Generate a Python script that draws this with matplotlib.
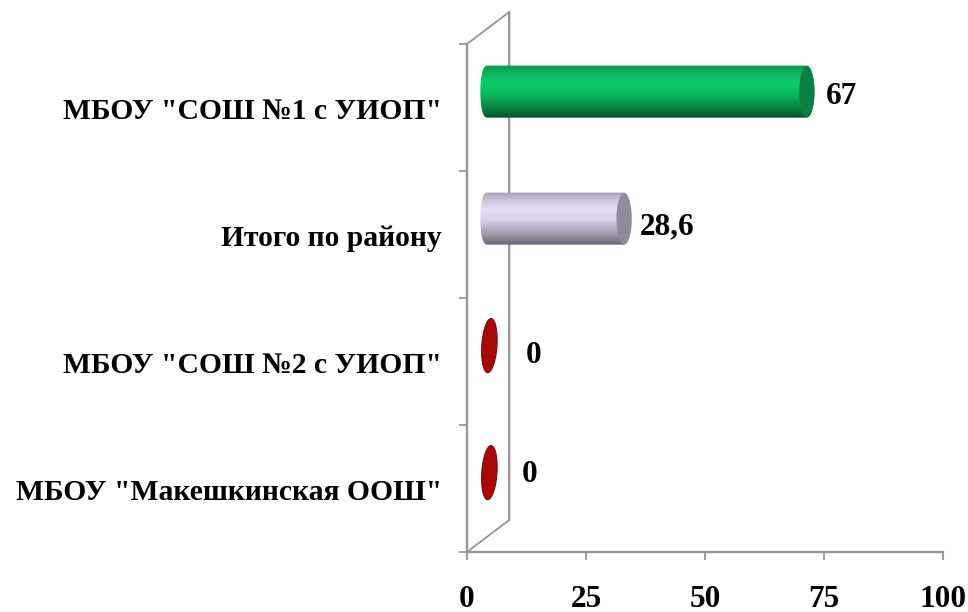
import numpy as np
import matplotlib
matplotlib.use('Agg')
import matplotlib.pyplot as plt
from matplotlib.colors import LinearSegmentedColormap
from matplotlib.patches import Polygon

categories = ['МБОУ "Макешкинская ООШ"', 'МБОУ "СОШ №2 с УИОП"', 'Итого по району', 'МБОУ "СОШ №1 с УИОП"']
values = [0, 0, 28.6, 67]
value_labels = ['0', '0', '28,6', '67']
xticks = [0, 25, 50, 75, 100]

# label placement, relative to the end of each bar
label_dx = [13.2, 14.1, 13.4, 11.6]
label_dy = [0.114, 0.05, 0.06, 0.083]

plt.rcParams['font.family'] = ['Liberation Serif', 'DejaVu Serif']
plt.rcParams['font.weight'] = 'bold'

GRAY = '#969696'
depth_x, depth_y = 8.8, 0.25
half_w, half_h = 1.6, 0.205

green = LinearSegmentedColormap.from_list('g', ['#0a9a50', '#0bb85c', '#0ccb66', '#0bbf60', '#08a050', '#067f3f', '#03552a'])
purple = LinearSegmentedColormap.from_list('p', ['#a59fb5', '#cfc6df', '#e6dcf5', '#ddd3ec', '#bdb5cd', '#96909f', '#6a6678'])
bar_styles = {2: (purple, '#8f8a9e'), 3: (green, '#0a7f45')}


def squarish(c):
    # ends of the cylinders are a bit flatter than a true ellipse
    return np.sign(c) * np.abs(c) ** 0.7


fig = plt.figure(figsize=(9.68, 6.12), dpi=100)
ax = fig.add_axes([467 / 968, 60 / 612, 476 / 968, 508 / 612])
ax.set_xlim(0, 100)
ax.set_ylim(0, 4)

# 3d side wall
ax.plot([0, depth_x], [0, depth_y], color=GRAY, lw=1.3, clip_on=False)
ax.plot([0, depth_x], [4, 4 + depth_y], color=GRAY, lw=1.3, clip_on=False)
ax.plot([depth_x + 0.3] * 2, [depth_y, 4 + depth_y], color='#dddddd', lw=1.5, clip_on=False)
ax.plot([depth_x, depth_x], [depth_y, 4 + depth_y], color=GRAY, lw=1.4, clip_on=False)

t = np.linspace(0, 2 * np.pi, 80)
for i, val in enumerate(values):
    y0 = i + 0.5 + depth_y / 2
    x0 = depth_x / 2
    x1 = x0 + val
    if val == 0:
        # tilted ellipse for an empty bar
        ex = x0 + 0.3 + 1.6 * np.cos(t) + 0.35 * np.sin(t)
        ey = y0 + half_h * 1.04 * np.sin(t)
        ax.add_patch(Polygon(np.column_stack([ex, ey]), closed=True, fc='#a80808', ec='#7a1010', lw=0.8, zorder=3))
    else:
        cmap, cap = bar_styles[i]
        a = np.linspace(np.pi / 2, 3 * np.pi / 2, 40)
        left = np.column_stack([x0 + half_w * squarish(np.cos(a)), y0 + half_h * np.sin(a)])
        right = np.column_stack([x1 - half_w * np.cos(a), y0 - half_h * np.sin(a)])
        outline = Polygon(np.vstack([left, right]), closed=True, fc='none', ec='none', zorder=3)
        ax.add_patch(outline)
        im = ax.imshow(np.linspace(0, 1, 120).reshape(-1, 1), cmap=cmap, aspect='auto', origin='upper',
                       extent=[x0 - half_w, x1 + half_w, y0 - half_h, y0 + half_h], zorder=3)
        im.set_clip_path(outline)
        ax.fill(x1 + half_w * np.cos(t), y0 + half_h * 0.98 * np.sin(t), color=cap, lw=0, zorder=4)
    ax.text(val + label_dx[i], i + 0.5 + label_dy[i], value_labels[i], ha='center', va='center', fontsize=22.5, zorder=5)

ax.set_xlim(0, 100)
ax.set_ylim(0, 4)

for side in ['top', 'right']:
    ax.spines[side].set_visible(False)
for side in ['left', 'bottom']:
    ax.spines[side].set_color(GRAY)
    ax.spines[side].set_linewidth(1.7)

ax.set_xticks(xticks)
ax.set_xticklabels([str(v) for v in xticks], fontsize=22.5)
ax.tick_params(axis='x', color=GRAY, width=1.3, length=6, pad=17.5)
ax.set_yticks([0, 1, 2, 3, 4])
ax.set_yticklabels([])
ax.tick_params(axis='y', which='major', color=GRAY, width=1.3, length=6)
ax.set_yticks([0.49, 1.49, 2.49, 3.49], minor=True)
ax.set_yticklabels(categories, minor=True, fontsize=21.3)
ax.tick_params(axis='y', which='minor', length=0, pad=18)

fig.savefig('out.png', dpi=100)
